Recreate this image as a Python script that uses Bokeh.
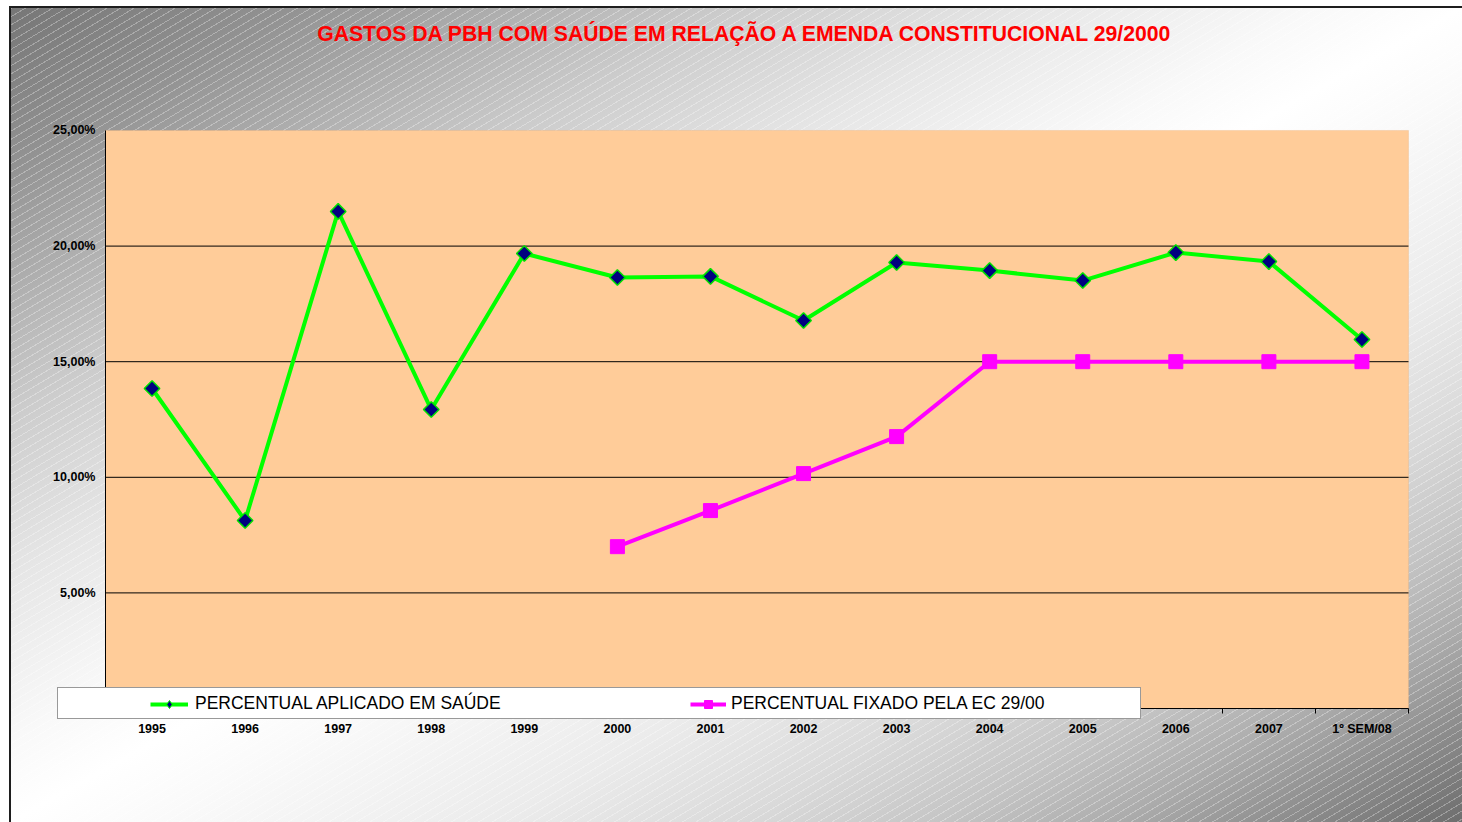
import numpy as np
from bokeh.plotting import figure
from bokeh.models import (Range1d, FixedTicker, Legend, LegendItem, Label, BoxAnnotation)
from bokeh.embed import file_html
from bokeh.resources import INLINE

# ---------------- data ----------------
categories = ["1995", "1996", "1997", "1998", "1999", "2000", "2001",
              "2002", "2003", "2004", "2005", "2006", "2007", "1º SEM/08"]
aplicado = [13.84, 8.13, 21.50, 12.93, 19.68, 18.64, 18.69,
            16.78, 19.29, 18.94, 18.51, 19.72, 19.33, 15.96]
fixado_categories = ["2000", "2001", "2002", "2003", "2004", "2005", "2006", "2007", "1º SEM/08"]
fixado = [7.00, 8.56, 10.16, 11.76, 15.00, 15.00, 15.00, 15.00, 15.00]
y_ticks = [5, 10, 15, 20, 25]
y_tick_labels = ["5,00%", "10,00%", "15,00%", "20,00%", "25,00%"]
grid_ticks = [5, 10, 15, 20]
y_max = 25
title_text = "GASTOS DA PBH COM SAÚDE EM RELAÇÃO A EMENDA CONSTITUCIONAL 29/2000"
label_aplicado = "PERCENTUAL APLICADO EM SAÚDE"
label_fixado = "PERCENTUAL FIXADO PELA EC 29/00"

FONT = "Liberation Sans"
W, H = 1462, 822

n = len(categories)
pos = {c: i + 0.5 for i, c in enumerate(categories)}
x_ap = [pos[c] for c in categories]
x_fx = [pos[c] for c in fixado_categories]

# the frame covers the whole canvas; axes are pinned to 0 inside it
p = figure(width=W, height=H, output_backend="svg", toolbar_location=None,
           x_range=Range1d(-1.12816, 14.5802), y_range=Range1d(-4.9308, 30.6228),
           min_border_left=0, min_border_right=0, min_border_top=0,
           min_border_bottom=0)

p.background_fill_alpha = 0
p.border_fill_alpha = 0
p.outline_line_color = None

bg = ("linear-gradient(#1e1e1e,#1e1e1e) 9px 6px / 2px calc(100% - 6px) no-repeat, "
      "linear-gradient(#1e1e1e,#1e1e1e) 9px 6px / calc(100% - 9px) 2px no-repeat, "
      "repeating-linear-gradient(149deg, rgba(255,255,255,0.30) 0px, rgba(255,255,255,0.30) 1px, "
      "rgba(255,255,255,0) 1px, rgba(255,255,255,0) 7px) 11px 8px / calc(100% - 11px) calc(100% - 8px) no-repeat, "
      "linear-gradient(to bottom right, #767676 0%, #939393 10%, #cccccc 25%, #e6e6e6 35%, "
      "#f9f9f9 45%, #ffffff 50%, #fafafa 55%, #ebebeb 67%, #dadada 75%, #c5c5c5 82%, "
      "#acacac 88%, #8c8c8c 94%, #6e6e6e 100%) 11px 8px / calc(100% - 11px) calc(100% - 8px) no-repeat, "
      "#ffffff")
p.styles = {"background": bg}

# plot area
area = BoxAnnotation(left=0, right=n, bottom=0, top=y_max, fill_color="#FFCC99",
                     fill_alpha=1, line_color="#E8B07A", line_width=1, level="underlay")
p.add_layout(area)

# title
p.add_layout(Label(x=745, y=789, x_units="screen", y_units="screen", text=title_text,
                   text_align="center", text_baseline="middle", text_font=FONT,
                   text_font_size="21.2px", text_font_style="bold", text_color="#FF0000"))

# grid lines
p.xgrid.visible = False
p.ygrid.visible = False
p.segment(x0=0, x1=n, y0=grid_ticks, y1=grid_ticks, line_color="black", line_width=1)

# x axis
xa = p.xaxis[0]
xa.fixed_location = 0
xa.bounds = (0, n)
xa.ticker = FixedTicker(ticks=x_ap, minor_ticks=list(range(0, n + 1)))
xa.major_label_overrides = {x: c for x, c in zip(x_ap, categories)}
xa.major_tick_line_color = None
xa.major_tick_out = 0
xa.major_tick_in = 0
xa.minor_tick_line_color = "black"
xa.minor_tick_out = 5
xa.minor_tick_in = 0
xa.axis_line_color = "black"
xa.major_label_text_font = FONT
xa.major_label_text_font_style = "bold"
xa.major_label_text_font_size = "12.5px"
xa.major_label_text_color = "black"
xa.major_label_standoff = 9

# y axis
ya = p.yaxis[0]
ya.fixed_location = 0
ya.bounds = (0, y_max)
ya.ticker = FixedTicker(ticks=y_ticks)
ya.major_label_overrides = {t: l for t, l in zip(y_ticks, y_tick_labels)}
ya.major_tick_line_color = None
ya.major_tick_out = 0
ya.major_tick_in = 0
ya.minor_tick_line_color = None
ya.axis_line_color = "black"
ya.major_label_text_font = FONT
ya.major_label_text_font_style = "bold"
ya.major_label_text_font_size = "12.5px"
ya.major_label_text_color = "black"
ya.major_label_standoff = 10

# series
l1 = p.line(x_ap, aplicado, line_color="#00FF00", line_width=4)
# diamond marker (also used as the legend swatch), covered by the wider marker below
s1_leg = p.scatter(x_ap, aplicado, marker="diamond", size=12,
                   fill_color="#000080", line_color="#00E000", line_width=1)
s1 = p.scatter(x_ap, aplicado, marker="square", angle=np.pi / 4, size=11,
               fill_color="#000080", line_color="#00E000", line_width=1.5)
l2 = p.line(x_fx, fixado, line_color="#FF00FF", line_width=4)
s2 = p.scatter(x_fx, fixado, marker="square", size=14, fill_color="#FF00FF",
               line_color="#FF00FF")

# legend box (frame only)
dummy = p.line(x=[0.5], y=[1], line_alpha=0)
box = Legend(items=[LegendItem(label=" ", renderers=[dummy])],
             location=(57, 103), orientation="horizontal",
             padding=5, margin=0, spacing=0, glyph_width=1, glyph_height=20,
             label_width=1071, label_height=20, label_standoff=0,
             label_text_alpha=0, border_line_color="#333333", border_line_width=1,
             background_fill_color="white", background_fill_alpha=1)
p.add_layout(box, "center")

leg_a = Legend(items=[LegendItem(label=label_aplicado, renderers=[l1, s1_leg])],
               location=(150, 108), orientation="horizontal",
               padding=0, margin=0, spacing=0, glyph_width=38, glyph_height=20,
               label_standoff=7, label_height=20,
               label_text_font=FONT, label_text_font_size="17.5px",
               label_text_color="black",
               border_line_color=None, background_fill_alpha=0)
p.add_layout(leg_a, "center")

leg_b = Legend(items=[LegendItem(label=label_fixado, renderers=[l2, s2])],
               location=(690, 108), orientation="horizontal",
               padding=0, margin=0, spacing=0, glyph_width=36, glyph_height=20,
               label_standoff=5, label_height=20,
               label_text_font=FONT, label_text_font_size="17.5px",
               label_text_color="black",
               border_line_color=None, background_fill_alpha=0)
p.add_layout(leg_b, "center")

open("out.html", "w").write(file_html(p, INLINE))
